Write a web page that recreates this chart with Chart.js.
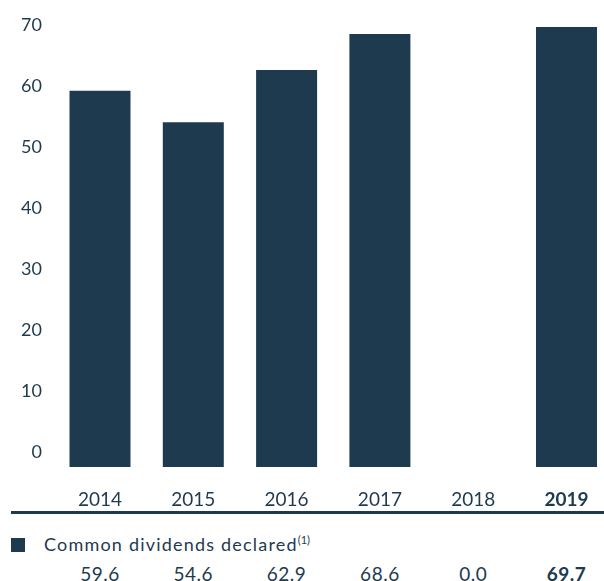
<!DOCTYPE html>
<html>
<head>
<meta charset="utf-8">
<script src="https://cdn.jsdelivr.net/npm/chart.js@4.4.0/dist/chart.umd.min.js"></script>
<style>
  html, body { margin: 0; padding: 0; background: #fff; }
  body {
    width: 604px; height: 581px; position: relative; overflow: hidden;
    font-family: Lato, "Open Sans", sans-serif; color: #1e3a4f;
  }
  #chartBox { position: absolute; left: 0; top: 0; width: 604px; height: 512px; }
  #rule { position: absolute; left: 11px; top: 511px; width: 593px; height: 3px; background: #1e3a4f; }
  #legend { position: absolute; left: 11px; top: 533px; height: 22px; font-size: 18px; line-height: 22px; white-space: nowrap; letter-spacing: 1.2px; }
  #legend .swatch { display: inline-block; width: 14px; height: 14px; background: #1e3a4f; vertical-align: -1px; margin-right: 19px; }
  #legend sup { font-size: 11px; vertical-align: 7px; line-height: 0; letter-spacing: 0; }
  .val { position: absolute; top: 563px; font-size: 19px; line-height: 22px; transform: translateX(-50%); white-space: nowrap; letter-spacing: 0.5px; }
  .val.bold { font-weight: bold; }
</style>
</head>
<body>
<div id="chartBox"><canvas id="divChart" width="604" height="512"></canvas></div>
<div id="rule"></div>
<div id="legend"><span class="swatch"></span>Common dividends declared<sup>(1)</sup></div>
<div id="values"></div>

<script>
// Data
const YEARS = ['2014', '2015', '2016', '2017', '2018', '2019'];
const DIVIDENDS = [59.6, 54.6, 62.9, 68.6, 0.0, 69.7];
const Y_TICKS = [0, 10, 20, 30, 40, 50, 60, 70];
const SERIES_LABEL = 'Common dividends declared';

const NAVY = '#1e3a4f';
const LAST = YEARS.length - 1;

function tickFont(ctx) {
    return { family: 'Lato', size: 19, weight: ctx.index === LAST ? 'bold' : 'normal' };
}

const chartConfig = {
    type: 'bar',
    data: {
        labels: YEARS,
        datasets: [{
            label: SERIES_LABEL,
            data: DIVIDENDS,
            backgroundColor: NAVY,
            borderWidth: 0,
            inflateAmount: 0,
            barThickness: 61,
            clip: false,
            yAxisID: 'y'
        }]
    },
    options: {
        responsive: false,
        animation: false,
        layout: { padding: { top: 20, right: 37.5, left: 0, bottom: 0 } },
        plugins: { legend: { display: false }, tooltip: { enabled: false } },
        scales: {
            x: {
                type: 'category',
                offset: false,
                grid: { display: false, drawTicks: false },
                border: { display: false },
                ticks: { color: NAVY, font: tickFont, padding: 21, maxRotation: 0, autoSkip: false },
                afterFit: (scale) => {
                    scale.height = 45;
                    scale.paddingLeft = 0;
                    scale.paddingRight = 0;
                }
            },
            // bars are scaled against this hidden axis
            y: {
                display: false,
                min: 0,
                max: 70.8
            },
            // the printed tick column sits a little above the bar baseline
            yTicks: {
                position: 'left',
                min: -2.46,
                max: 70.82,
                grid: { display: false, drawTicks: false },
                border: { display: false },
                afterBuildTicks: (scale) => {
                    scale.ticks = Y_TICKS.map(v => ({ value: v }));
                },
                ticks: {
                    includeBounds: false,
                    color: NAVY,
                    font: { family: 'Lato', size: 18 },
                    padding: 58
                },
                afterFit: (scale) => {
                    scale.width = 100;
                    scale.paddingTop = 0;
                    scale.paddingBottom = 0;
                }
            }
        }
    }
};

const chart = new Chart(document.getElementById('divChart').getContext('2d'), chartConfig);

// value row under the axis, placed on the category positions
function buildValueRow() {
    const box = document.getElementById('values');
    DIVIDENDS.forEach((v, i) => {
        const el = document.createElement('div');
        el.className = 'val' + (i === LAST ? ' bold' : '');
        el.style.left = chart.scales.x.getPixelForTick(i) + 'px';
        el.textContent = v.toFixed(1);
        box.appendChild(el);
    });
}

buildValueRow();
</script>
</body>
</html>
